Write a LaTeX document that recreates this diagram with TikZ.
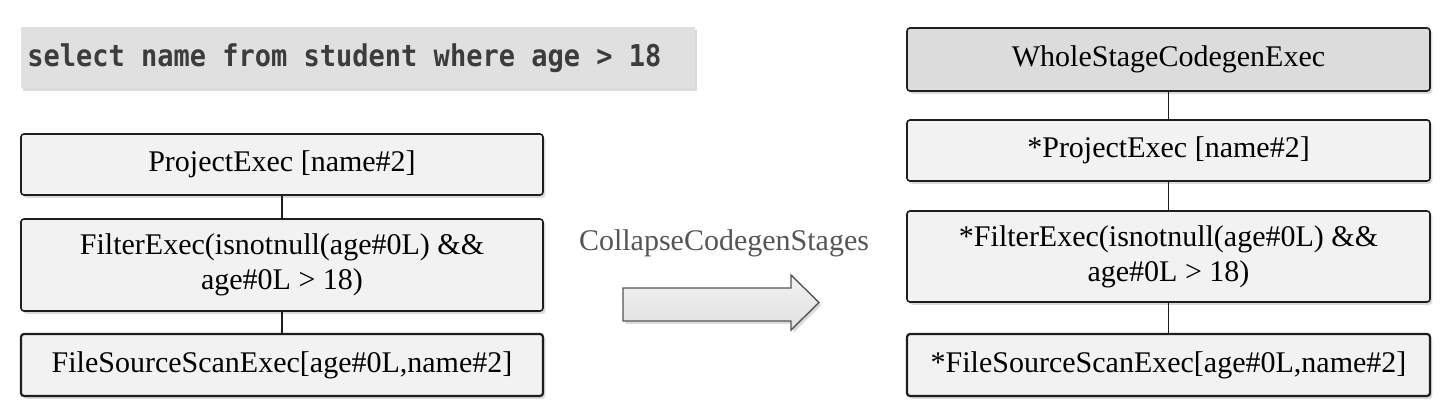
\documentclass[tikz,border=0pt]{standalone}
\usepackage{fontspec}
\setmainfont{Liberation Serif}
\newfontfamily\monof[FakeStretch=0.9]{DejaVu Sans Mono}
\usetikzlibrary{shadows}
\definecolor{boxfill}{HTML}{F2F2F2}
\definecolor{topfill}{HTML}{DCDCDC}
\definecolor{sqlfill}{HTML}{E0E0E0}
\definecolor{sqltext}{HTML}{3C3C3C}
\definecolor{edge}{HTML}{1E1E1E}
\definecolor{lbl}{HTML}{555555}
\tikzset{
  opbox/.style={draw=edge, line width=0.8pt, fill=boxfill, rounded corners=1.5pt,
    align=center, font=\fontsize{15}{17.5}\selectfont, inner sep=0pt,
    drop shadow={shadow xshift=1.2pt, shadow yshift=-1.4pt, opacity=0.14, fill=black}},
  link/.style={draw=edge, line width=0.7pt},
}
\begin{document}
\begin{tikzpicture}[x=0.5pt,y=-0.5pt]
\useasboundingbox (0,0) rectangle (1455,418);
% SQL box
\node[fill=sqlfill, minimum width=337pt, minimum height=30.5pt, inner sep=0pt,
  drop shadow={shadow xshift=1.2pt, shadow yshift=-1.4pt, opacity=0.14, fill=black}]
  (sql) at (358,57.5) {};
\node[anchor=west, inner sep=0pt, text=sqltext, font=\monof\bfseries\fontsize{15}{17}\selectfont]
  (sqltxt) at (27,58) {select name from student where age > 18};
% left stack
\node[opbox, minimum width=261pt, minimum height=30.5pt] (lp) at (282,164.5) {ProjectExec [name\#2]};
\node[opbox, minimum width=261pt, minimum height=46pt] (lf) at (282,265) {FilterExec(isnotnull(age\#0L) \&\&\\age\#0L > 18)};
\node[opbox, minimum width=261pt, minimum height=31pt, line width=1.1pt] (ls) at (282,365) {FileSourceScanExec[age\#0L,name\#2]};
\draw[link] (lp) -- (lf);
\draw[link] (lf) -- (ls);
% right stack
\node[opbox, fill=topfill, minimum width=261.5pt, minimum height=31.5pt] (rw) at (1168.5,59.5) {WholeStageCodegenExec};
\node[opbox, minimum width=261.5pt, minimum height=30.5pt] (rp) at (1168.5,150.5) {*ProjectExec [name\#2]};
\node[opbox, minimum width=261.5pt, minimum height=45.5pt] (rf) at (1168.5,256.5) {*FilterExec(isnotnull(age\#0L) \&\&\\age\#0L > 18)};
\node[opbox, minimum width=261.5pt, minimum height=31pt, line width=1.1pt] (rs) at (1168.5,365) {*FileSourceScanExec[age\#0L,name\#2]};
\draw[link] (rw) -- (rp);
\draw[link] (rp) -- (rf);
\draw[link] (rf) -- (rs);
% transform arrow
\node[text=lbl, font=\fontsize{15}{17.5}\selectfont, inner sep=0pt] (clabel) at (724,243) {CollapseCodegenStages};
\draw[draw=lbl, line width=0.7pt, top color=boxfill, bottom color=sqlfill, line join=miter,
  drop shadow={shadow xshift=1.2pt, shadow yshift=-1.4pt, opacity=0.14, fill=black}]
  (623,288) -- (791,288) -- (791,275) -- (819,302.5) -- (791,330) -- (791,321) -- (623,321) -- cycle;
\end{tikzpicture}
\end{document}
